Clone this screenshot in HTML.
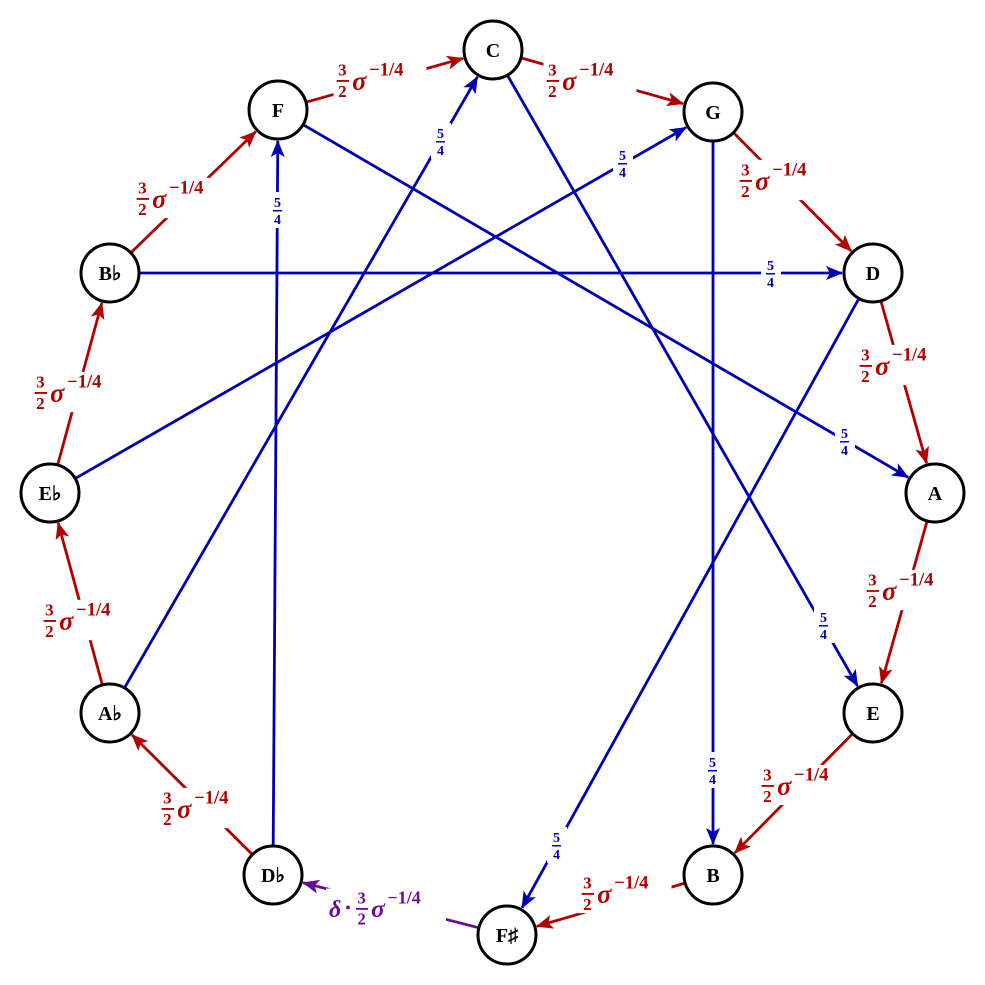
<!DOCTYPE html>
<html><head><meta charset="utf-8"><style>
html,body{margin:0;padding:0;background:#fff}
svg{display:block}
.n{font-family:"Liberation Serif",serif;font-weight:bold;font-size:20px;text-anchor:middle}
.l{font-family:"Liberation Serif",serif;font-weight:bold}
</style></head><body>
<svg id="s" width="985" height="985" viewBox="0 0 985 985" xmlns="http://www.w3.org/2000/svg">
<defs>
<marker id="mr" markerUnits="userSpaceOnUse" markerWidth="20" markerHeight="16" refX="16" refY="7" orient="auto"><path d="M0,0 L17,7 L0,14 L4,7 Z" fill="#b00000"/></marker>
<marker id="mb" markerUnits="userSpaceOnUse" markerWidth="20" markerHeight="16" refX="16" refY="7" orient="auto"><path d="M0,0 L17,7 L0,14 L4,7 Z" fill="#0000b0"/></marker>
<marker id="mp" markerUnits="userSpaceOnUse" markerWidth="20" markerHeight="16" refX="16" refY="7" orient="auto"><path d="M0,0 L17,7 L0,14 L4,7 Z" fill="#6a0a9a"/></marker>
<g id="rl"><rect x="-43" y="-13" width="60" height="26" fill="#fff"/><text x="-40" y="-3" font-size="11">3</text><rect x="-41" y="0" width="8" height="1.2"/><text x="-40" y="11" font-size="11">2</text><text x="-31" y="6" font-size="17" font-style="italic">σ</text><text x="-20" y="-3" font-size="12">−1/4</text></g>
</defs>
<g id="edges"></g>
<g id="nodes" fill="#fff" stroke="#000" stroke-width="3">
<circle cx="493" cy="50" r="29"/><circle cx="713" cy="112" r="29"/><circle cx="873" cy="273" r="29"/><circle cx="935" cy="493" r="29"/><circle cx="873" cy="713" r="29"/><circle cx="713" cy="875" r="29"/><circle cx="507" cy="935" r="29"/><circle cx="273" cy="875" r="29"/><circle cx="110" cy="713" r="29"/><circle cx="50" cy="493" r="29"/><circle cx="110" cy="273" r="29"/><circle cx="278" cy="110" r="29"/>
</g>
<g class="n">
<text x="493" y="57">C</text><text x="713" y="119">G</text><text x="873" y="280">D</text><text x="935" y="500">A</text><text x="873" y="720">E</text><text x="713" y="882">B</text><text x="507" y="942">F♯</text><text x="273" y="882">D♭</text><text x="110" y="720">A♭</text><text x="50" y="500">E♭</text><text x="110" y="280">B♭</text><text x="278" y="117">F</text>
</g>
<g class="l" fill="#b00000">
<g transform="translate(380,80) scale(1.55) translate(13,0)"><rect x="-43" y="-13" width="60" height="26" fill="#fff"/><text x="-40" y="-3" font-size="11">3</text><rect x="-41" y="0" width="8" height="1.2"/><text x="-40" y="11" font-size="11">2</text><text x="-31" y="6" font-size="17" font-style="italic">σ</text><text x="-20" y="-3" font-size="12">−1/4</text></g>
<g transform="translate(590,80) scale(1.55) translate(13,0)"><rect x="-43" y="-13" width="60" height="26" fill="#fff"/><text x="-40" y="-3" font-size="11">3</text><rect x="-41" y="0" width="8" height="1.2"/><text x="-40" y="11" font-size="11">2</text><text x="-31" y="6" font-size="17" font-style="italic">σ</text><text x="-20" y="-3" font-size="12">−1/4</text></g>
<g transform="translate(783,180) scale(1.55) translate(13,0)"><rect x="-43" y="-13" width="60" height="26" fill="#fff"/><text x="-40" y="-3" font-size="11">3</text><rect x="-41" y="0" width="8" height="1.2"/><text x="-40" y="11" font-size="11">2</text><text x="-31" y="6" font-size="17" font-style="italic">σ</text><text x="-20" y="-3" font-size="12">−1/4</text></g>
<g transform="translate(903,365) scale(1.55) translate(13,0)"><rect x="-43" y="-13" width="60" height="26" fill="#fff"/><text x="-40" y="-3" font-size="11">3</text><rect x="-41" y="0" width="8" height="1.2"/><text x="-40" y="11" font-size="11">2</text><text x="-31" y="6" font-size="17" font-style="italic">σ</text><text x="-20" y="-3" font-size="12">−1/4</text></g>
<g transform="translate(910,590) scale(1.55) translate(13,0)"><rect x="-43" y="-13" width="60" height="26" fill="#fff"/><text x="-40" y="-3" font-size="11">3</text><rect x="-41" y="0" width="8" height="1.2"/><text x="-40" y="11" font-size="11">2</text><text x="-31" y="6" font-size="17" font-style="italic">σ</text><text x="-20" y="-3" font-size="12">−1/4</text></g>
<g transform="translate(805,785) scale(1.55) translate(13,0)"><rect x="-43" y="-13" width="60" height="26" fill="#fff"/><text x="-40" y="-3" font-size="11">3</text><rect x="-41" y="0" width="8" height="1.2"/><text x="-40" y="11" font-size="11">2</text><text x="-31" y="6" font-size="17" font-style="italic">σ</text><text x="-20" y="-3" font-size="12">−1/4</text></g>
<g transform="translate(625,893) scale(1.55) translate(13,0)"><rect x="-43" y="-13" width="60" height="26" fill="#fff"/><text x="-40" y="-3" font-size="11">3</text><rect x="-41" y="0" width="8" height="1.2"/><text x="-40" y="11" font-size="11">2</text><text x="-31" y="6" font-size="17" font-style="italic">σ</text><text x="-20" y="-3" font-size="12">−1/4</text></g>
<g transform="translate(205,808) scale(1.55) translate(13,0)"><rect x="-43" y="-13" width="60" height="26" fill="#fff"/><text x="-40" y="-3" font-size="11">3</text><rect x="-41" y="0" width="8" height="1.2"/><text x="-40" y="11" font-size="11">2</text><text x="-31" y="6" font-size="17" font-style="italic">σ</text><text x="-20" y="-3" font-size="12">−1/4</text></g>
<g transform="translate(87,620) scale(1.55) translate(13,0)"><rect x="-43" y="-13" width="60" height="26" fill="#fff"/><text x="-40" y="-3" font-size="11">3</text><rect x="-41" y="0" width="8" height="1.2"/><text x="-40" y="11" font-size="11">2</text><text x="-31" y="6" font-size="17" font-style="italic">σ</text><text x="-20" y="-3" font-size="12">−1/4</text></g>
<g transform="translate(78,392) scale(1.55) translate(13,0)"><rect x="-43" y="-13" width="60" height="26" fill="#fff"/><text x="-40" y="-3" font-size="11">3</text><rect x="-41" y="0" width="8" height="1.2"/><text x="-40" y="11" font-size="11">2</text><text x="-31" y="6" font-size="17" font-style="italic">σ</text><text x="-20" y="-3" font-size="12">−1/4</text></g>
<g transform="translate(180,198) scale(1.55) translate(13,0)"><rect x="-43" y="-13" width="60" height="26" fill="#fff"/><text x="-40" y="-3" font-size="11">3</text><rect x="-41" y="0" width="8" height="1.2"/><text x="-40" y="11" font-size="11">2</text><text x="-31" y="6" font-size="17" font-style="italic">σ</text><text x="-20" y="-3" font-size="12">−1/4</text></g>
</g>
<g class="l" fill="#6a0a9a">
<g transform="translate(398,908) scale(1.5) translate(14,0)"><rect x="-62" y="-13" width="80" height="26" fill="#fff"/><text x="-60" y="6" font-size="16" font-style="italic">δ</text><text x="-50" y="5" font-size="16">·</text><text x="-41" y="-3" font-size="11">3</text><rect x="-42" y="0" width="8" height="1.2"/><text x="-41" y="11" font-size="11">2</text><text x="-32" y="6" font-size="17" font-style="italic">σ</text><text x="-21" y="-3" font-size="12">−1/4</text></g>
</g>
<g class="l" fill="#0000b0" font-size="14">
<g transform="translate(771,273)"><rect x="-10" y="-18" width="20" height="36" fill="#fff"/><text x="-4" y="-3">5</text><rect x="-5" y="0" width="9" height="1.5"/><text x="-4" y="14">4</text></g>
<g transform="translate(845,441)"><rect x="-10" y="-18" width="20" height="36" fill="#fff"/><text x="-4" y="-3">5</text><rect x="-5" y="0" width="9" height="1.5"/><text x="-4" y="14">4</text></g>
<g transform="translate(824,625)"><rect x="-10" y="-18" width="20" height="36" fill="#fff"/><text x="-4" y="-3">5</text><rect x="-5" y="0" width="9" height="1.5"/><text x="-4" y="14">4</text></g>
<g transform="translate(713,770)"><rect x="-10" y="-18" width="20" height="36" fill="#fff"/><text x="-4" y="-3">5</text><rect x="-5" y="0" width="9" height="1.5"/><text x="-4" y="14">4</text></g>
<g transform="translate(557,845)"><rect x="-10" y="-18" width="20" height="36" fill="#fff"/><text x="-4" y="-3">5</text><rect x="-5" y="0" width="9" height="1.5"/><text x="-4" y="14">4</text></g>
<g transform="translate(278,210)"><rect x="-10" y="-18" width="20" height="36" fill="#fff"/><text x="-4" y="-3">5</text><rect x="-5" y="0" width="9" height="1.5"/><text x="-4" y="14">4</text></g>
<g transform="translate(441,141)"><rect x="-10" y="-18" width="20" height="36" fill="#fff"/><text x="-4" y="-3">5</text><rect x="-5" y="0" width="9" height="1.5"/><text x="-4" y="14">4</text></g>
<g transform="translate(623,163)"><rect x="-10" y="-18" width="20" height="36" fill="#fff"/><text x="-4" y="-3">5</text><rect x="-5" y="0" width="9" height="1.5"/><text x="-4" y="14">4</text></g>
</g>
</svg>
<script>
var P={C:[493,50],G:[713,112],D:[873,273],A:[935,493],E:[873,713],B:[713,875],Fs:[507,935],Db:[273,875],Ab:[110,713],Eb:[50,493],Bb:[110,273],F:[278,110]};
var E=[["F","C","#b00000","mr"],["C","G","#b00000","mr"],["G","D","#b00000","mr"],["D","A","#b00000","mr"],["A","E","#b00000","mr"],["E","B","#b00000","mr"],["B","Fs","#b00000","mr"],["Fs","Db","#6a0a9a","mp"],["Db","Ab","#b00000","mr"],["Ab","Eb","#b00000","mr"],["Eb","Bb","#b00000","mr"],["Bb","F","#b00000","mr"],
["Bb","D","#0000b0","mb"],["F","A","#0000b0","mb"],["C","E","#0000b0","mb"],["G","B","#0000b0","mb"],["D","Fs","#0000b0","mb"],["Db","F","#0000b0","mb"],["Ab","C","#0000b0","mb"],["Eb","G","#0000b0","mb"]];
var g=document.getElementById("edges"),ns="http://www.w3.org/2000/svg";
E.forEach(function(e){var a=P[e[0]],b=P[e[1]],dx=b[0]-a[0],dy=b[1]-a[1],L=Math.hypot(dx,dy),ux=dx/L,uy=dy/L;
var l=document.createElementNS(ns,"line");l.setAttribute("x1",a[0]+ux*30);l.setAttribute("y1",a[1]+uy*30);l.setAttribute("x2",b[0]-ux*31);l.setAttribute("y2",b[1]-uy*31);
l.setAttribute("stroke",e[2]);l.setAttribute("stroke-width","2.8");l.setAttribute("marker-end","url(#"+e[3]+")");g.appendChild(l);});
</script>
</body></html>
